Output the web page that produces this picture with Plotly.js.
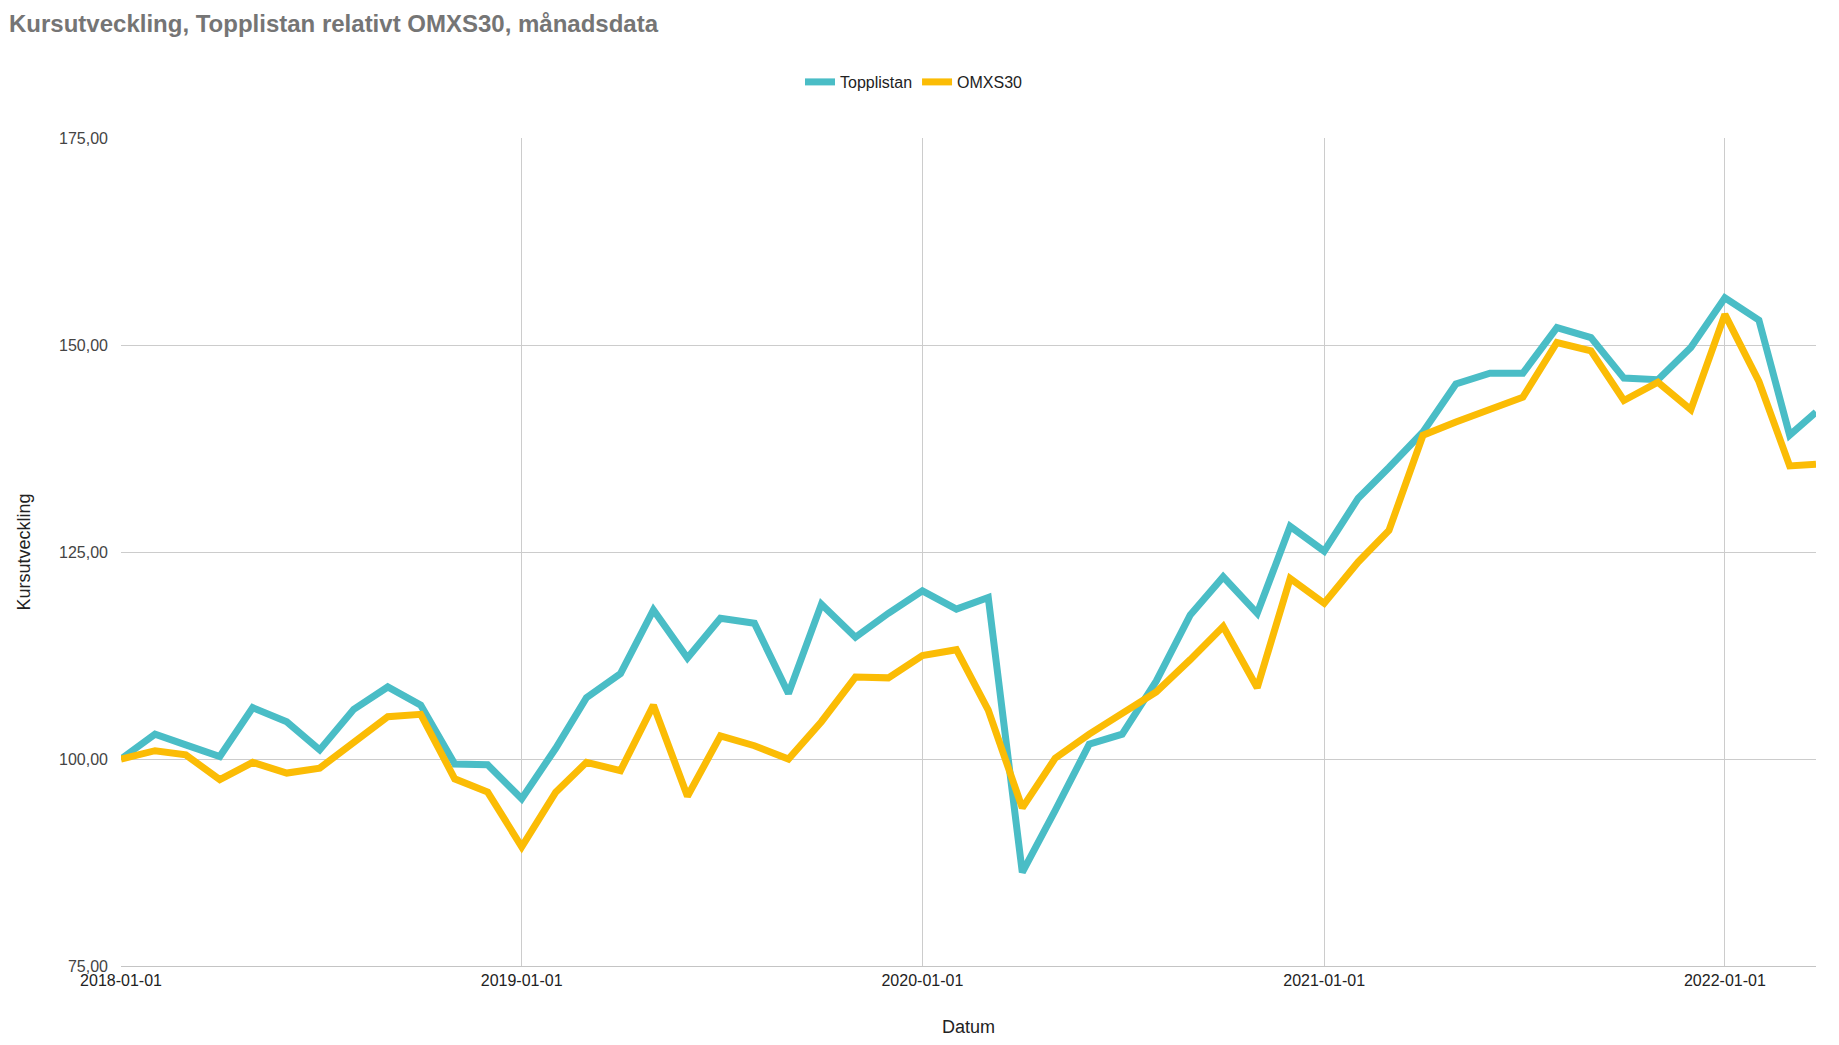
<!DOCTYPE html>
<html>
<head>
<meta charset="utf-8">
<script src="https://cdn.plot.ly/plotly-3.0.1.min.js"></script>
<style>
  html, body { margin: 0; padding: 0; background: #fff; }
  #chart { width: 1839px; height: 1045px; }
</style>
</head>
<body>
<div id="chart"></div>
<script>
const chartTitle = "Kursutveckling, Topplistan relativt OMXS30, månadsdata";
const seriesNames = ["Topplistan", "OMXS30"];
const xTitle = "Datum";
const yTitle = "Kursutveckling";

const dates = [
  "2018-01-01","2018-02-01","2018-03-01","2018-04-01","2018-05-01","2018-06-01",
  "2018-07-01","2018-08-01","2018-09-01","2018-10-01","2018-11-01","2018-12-01",
  "2019-01-01","2019-02-01","2019-03-01","2019-04-01","2019-05-01","2019-06-01",
  "2019-07-01","2019-08-01","2019-09-01","2019-10-01","2019-11-01","2019-12-01",
  "2020-01-01","2020-02-01","2020-03-01","2020-04-01","2020-05-01","2020-06-01",
  "2020-07-01","2020-08-01","2020-09-01","2020-10-01","2020-11-01","2020-12-01",
  "2021-01-01","2021-02-01","2021-03-01","2021-04-01","2021-05-01","2021-06-01",
  "2021-07-01","2021-08-01","2021-09-01","2021-10-01","2021-11-01","2021-12-01",
  "2022-01-01","2022-02-01","2022-03-01","2022-03-25"
];

const topplistan = [
  100.0, 103.0, 101.7, 100.3, 106.2, 104.5, 101.1, 106.0, 108.7, 106.5, 99.4, 99.3,
  95.2, 101.3, 107.4, 110.3, 118.0, 112.2, 117.0, 116.4, 107.9, 118.7, 114.7, 117.6,
  120.3, 118.1, 119.5, 86.3, 93.8, 101.8, 103.0, 109.4, 117.4, 122.0, 117.6, 128.1,
  125.1, 131.5, 135.2, 139.5, 145.3, 146.6, 146.6, 152.1, 150.9, 146.0, 145.8, 149.7,
  155.7, 153.0, 139.1, 141.9
];

const omxs30 = [
  100.0, 101.0, 100.5, 97.5, 99.6, 98.3, 98.9, 102.0, 105.1, 105.4, 97.6, 96.0,
  89.4, 96.0, 99.6, 98.6, 106.5, 95.5, 102.8, 101.6, 100.0, 104.5, 109.9, 109.8,
  112.5, 113.2, 105.9, 94.1, 100.1, 103.0, 105.6, 108.1, 112.0, 116.0, 108.6, 121.8,
  118.8, 123.8, 127.6, 139.1, 140.7, 142.3, 143.7, 150.3, 149.3, 143.3, 145.5, 142.2,
  153.7, 145.6, 135.4, 135.6
];

const yTicks = [75, 100, 125, 150, 175];
const xTicks = ["2018-01-01","2019-01-01","2020-01-01","2021-01-01","2022-01-01"];

const FONT = "Arial, 'Liberation Sans', sans-serif";

const traces = [
  { x: dates, y: topplistan, name: seriesNames[0], type: "scatter", mode: "lines",
    line: { color: "#4ABDC6", width: 7 } },
  { x: dates, y: omxs30, name: seriesNames[1], type: "scatter", mode: "lines",
    line: { color: "#FBBC05", width: 7 } }
];

const layout = {
  width: 1839, height: 1045,
  paper_bgcolor: "#ffffff", plot_bgcolor: "#ffffff",
  separators: ", ",
  font: { family: FONT, size: 16, color: "#222" },
  margin: { l: 121, r: 23, t: 138, b: 79, autoexpand: false },
  title: {
    text: "<b>" + chartTitle + "</b>",
    font: { family: FONT, size: 24, color: "#757575" },
    xref: "container", yref: "container",
    x: 9 / 1839, xanchor: "left",
    y: 1 - 24 / 1045, yanchor: "middle"
  },
  showlegend: true,
  legend: {
    orientation: "h",
    xref: "container", yref: "container",
    x: 914 / 1839, xanchor: "center",
    y: 1 - 82 / 1045, yanchor: "middle",
    font: { family: FONT, size: 16, color: "#222" },
    itemwidth: 30
  },
  xaxis: {
    type: "date",
    range: [dates[0], dates[dates.length - 1]],
    tickvals: xTicks,
    ticktext: xTicks,
    showgrid: true, gridcolor: "#cccccc", gridwidth: 1,
    showline: true, linecolor: "#c4c4c4", linewidth: 1,
    zeroline: false,
    ticks: "",
    tickfont: { family: FONT, size: 16, color: "#222" },
    automargin: false,
    title: { text: xTitle, font: { family: FONT, size: 18, color: "#222" }, standoff: 32 }
  },
  yaxis: {
    range: [75, 175],
    tickvals: yTicks,
    tickformat: ".2f",
    showgrid: true, gridcolor: "#cccccc", gridwidth: 1,
    showline: false, zeroline: false,
    ticks: "",
    ticklabelstandoff: 12,
    tickfont: { family: FONT, size: 16, color: "#444" },
    automargin: false,
    title: { text: yTitle, font: { family: FONT, size: 18, color: "#222" }, standoff: 23 }
  }
};

Plotly.newPlot("chart", traces, layout, { displayModeBar: false, staticPlot: true });
</script>
</body>
</html>
